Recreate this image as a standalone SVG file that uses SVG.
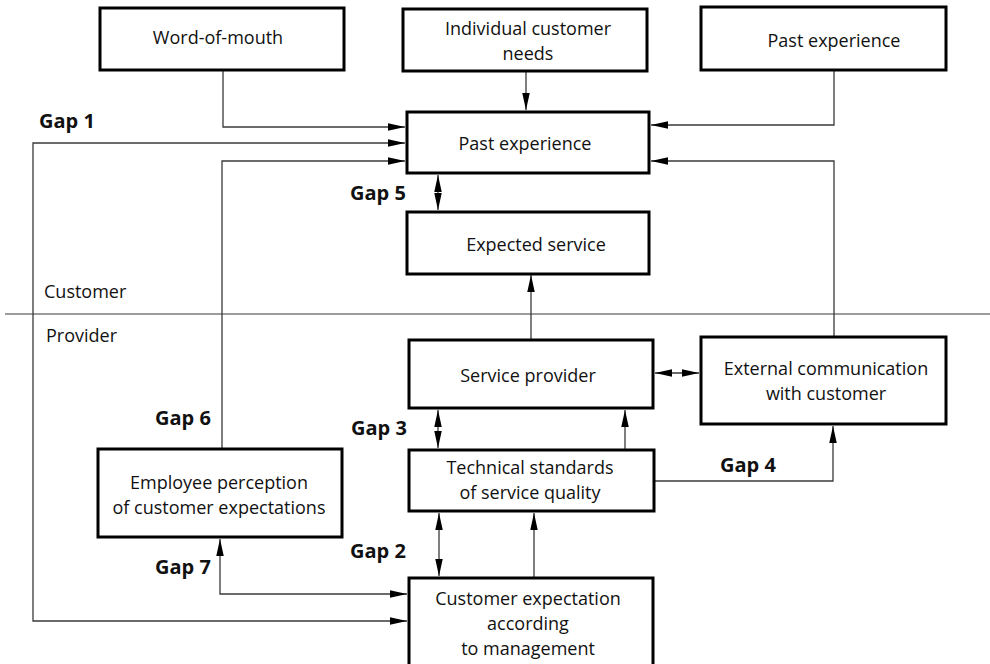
<svg xmlns="http://www.w3.org/2000/svg" width="990" height="664" viewBox="0 0 990 664">
  <style>
    .box { fill: #ffffff; stroke: #000000; stroke-width: 3; }
    .lbl { font-family: "Open Sans", "Noto Sans", sans-serif; font-size: 18px; fill: #111111; text-anchor: middle; }
    .side { font-family: "Open Sans", "Noto Sans", sans-serif; font-size: 18px; fill: #111111; }
    .gap { font-family: "Open Sans", "Noto Sans", sans-serif; font-size: 20px; font-weight: bold; fill: #111111; }
    .wire { fill: none; stroke: #3a3a3a; stroke-width: 1.3; }
    .one { marker-end: url(#head); }
    .two { marker-start: url(#head); marker-end: url(#head); }
  </style>
  <defs>
    <marker id="head" markerUnits="userSpaceOnUse" markerWidth="17" markerHeight="8" refX="17" refY="3.75" orient="auto-start-reverse">
      <path d="M0,0 L17,3.75 L0,7.5 z" fill="#000000"/>
    </marker>
  </defs>

  <rect width="990" height="664" fill="#ffffff"/>

  <!-- customer / provider boundary -->
  <path d="M5,314 H990" fill="none" stroke="#3a3a3a" stroke-width="1.2"/>
  <text class="side" x="44" y="298">Customer</text>
  <text class="side" x="46" y="342">Provider</text>

  <g id="connectors">
    <path class="wire one" d="M223,70 V127 H405"/>
    <path class="wire two" d="M405,143 H33 V621 H407"/>
    <path class="wire one" d="M222,448 V161 H405"/>
    <path class="wire one" d="M526,71 V110"/>
    <path class="wire one" d="M834,70 V125 H651"/>
    <path class="wire one" d="M834,336 V161 H651"/>
    <path class="wire two" d="M438,175 V210"/>
    <path class="wire one" d="M531,339 V275"/>
    <path class="wire two" d="M655,373 H699"/>
    <path class="wire two" d="M438,410 V448"/>
    <path class="wire one" d="M625,449 V410"/>
    <path class="wire one" d="M655,481 H833 V426"/>
    <path class="wire two" d="M439,513 V576"/>
    <path class="wire one" d="M534,577 V513"/>
    <path class="wire two" d="M220,539 V594 H407"/>
  </g>

  <g id="word-of-mouth">
    <rect class="box" x="100" y="8" width="244" height="62"/>
    <text class="lbl" x="218" y="44">Word-of-mouth</text>
  </g>

  <g id="individual-needs">
    <rect class="box" x="403" y="9" width="244" height="62"/>
    <text class="lbl" x="528" y="35">Individual customer</text>
    <text class="lbl" x="528" y="60">needs</text>
  </g>

  <g id="past-experience-source">
    <rect class="box" x="701" y="7" width="245" height="63"/>
    <text class="lbl" x="834" y="47">Past experience</text>
  </g>

  <g id="past-experience">
    <rect class="box" x="407" y="112" width="242" height="61"/>
    <text class="lbl" x="525" y="150">Past experience</text>
  </g>

  <g id="expected-service">
    <rect class="box" x="407" y="212" width="242" height="62"/>
    <text class="lbl" x="536" y="251">Expected service</text>
  </g>

  <g id="service-provider">
    <rect class="box" x="409" y="340" width="244" height="68"/>
    <text class="lbl" x="528" y="382">Service provider</text>
  </g>

  <g id="external-communication">
    <rect class="box" x="701" y="337" width="245" height="87"/>
    <text class="lbl" x="826" y="375">External communication</text>
    <text class="lbl" x="826" y="400">with customer</text>
  </g>

  <g id="employee-perception">
    <rect class="box" x="98" y="449" width="244" height="88"/>
    <text class="lbl" x="219" y="489">Employee perception</text>
    <text class="lbl" x="219" y="514">of customer expectations</text>
  </g>

  <g id="technical-standards">
    <rect class="box" x="409" y="450" width="245" height="61"/>
    <text class="lbl" x="530" y="474">Technical standards</text>
    <text class="lbl" x="530" y="499">of service quality</text>
  </g>

  <g id="management-expectation">
    <rect class="box" x="409" y="578" width="244" height="90"/>
    <text class="lbl" x="528" y="605">Customer expectation</text>
    <text class="lbl" x="528" y="630">according</text>
    <text class="lbl" x="528" y="655">to management</text>
  </g>

  <g id="gap-labels">
    <text class="gap" x="39" y="128">Gap 1</text>
    <text class="gap" x="350" y="200">Gap 5</text>
    <text class="gap" x="155" y="425">Gap 6</text>
    <text class="gap" x="351" y="435">Gap 3</text>
    <text class="gap" x="720" y="472">Gap 4</text>
    <text class="gap" x="350" y="558">Gap 2</text>
    <text class="gap" x="155" y="574">Gap 7</text>
  </g>
</svg>
